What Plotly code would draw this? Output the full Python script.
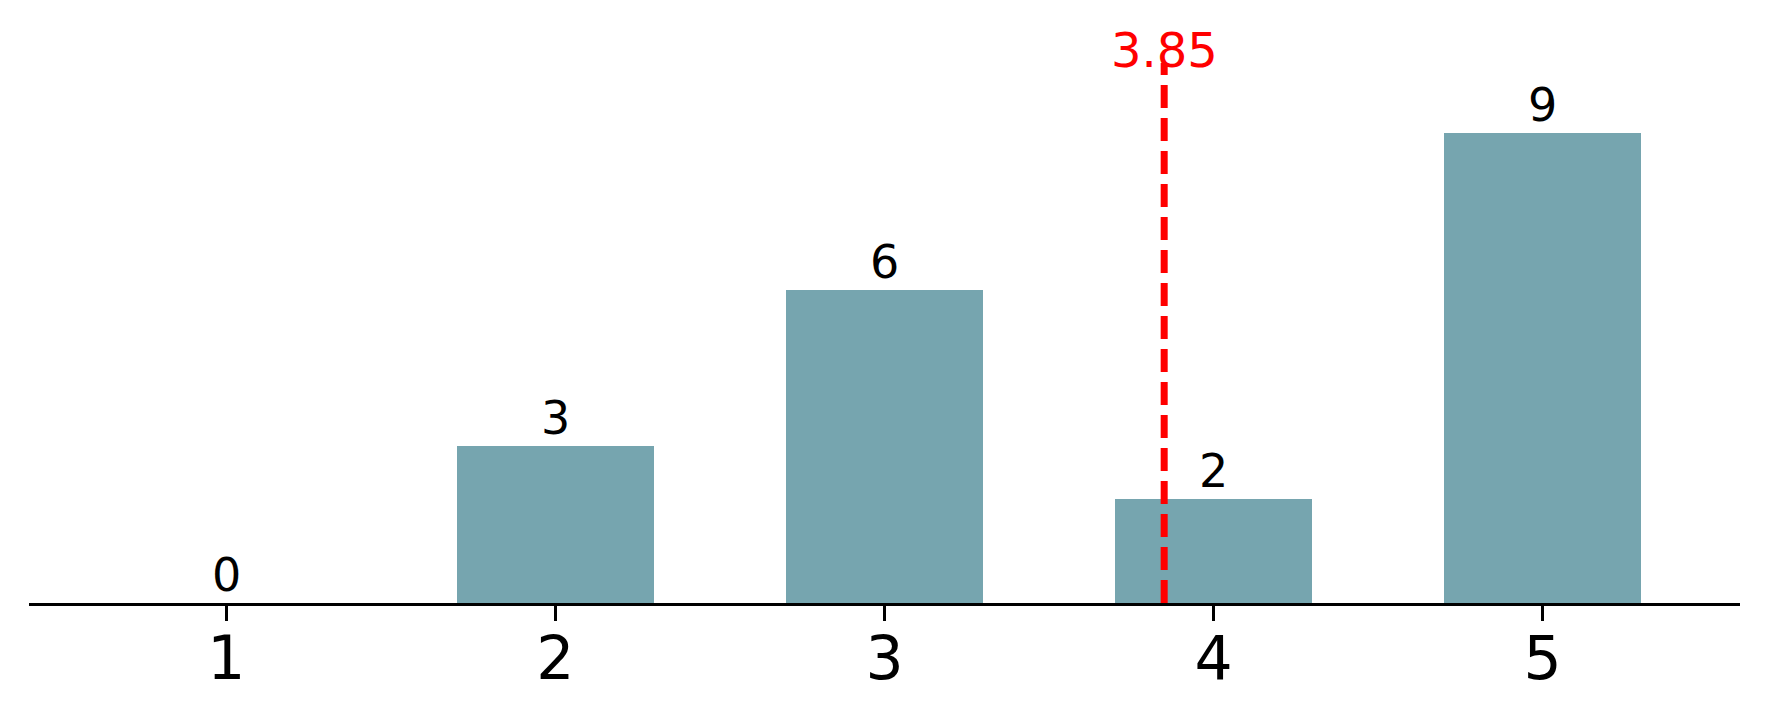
import plotly.graph_objects as go

categories = [1, 2, 3, 4, 5]
counts = [0, 3, 6, 2, 9]
mean_value = 3.85
tick_labels = ["1", "2", "3", "4", "5"]

BAR_COLOR = "#76a5af"
FONT = "DejaVu Sans"

fig = go.Figure()
fig.add_trace(go.Bar(x=categories, y=counts, width=0.6,
                     marker=dict(color=BAR_COLOR, line=dict(width=0)),
                     hoverinfo="skip"))

for c, v in zip(categories, counts):
    fig.add_annotation(x=c, y=v, text=str(v), showarrow=False,
                       xanchor="center", yanchor="bottom", yshift=-1,
                       font=dict(family=FONT, size=46, color="black"))

fig.add_shape(type="line", x0=mean_value, x1=mean_value, y0=0, y1=1,
              xref="x", yref="paper",
              line=dict(color="red", width=7, dash="23px,10px"))
fig.add_annotation(x=mean_value, y=1, xref="x", yref="paper",
                   text=f"{mean_value:.2f}", showarrow=False,
                   xanchor="center", yanchor="bottom", yshift=-17,
                   font=dict(family=FONT, size=48, color="red"))

fig.update_layout(
    width=1762, height=711,
    margin=dict(l=21, r=30, t=55, b=116),
    plot_bgcolor="white", paper_bgcolor="white",
    showlegend=False,
    bargap=0,
    xaxis=dict(range=[0.4, 5.6], tickmode="array", tickvals=categories,
               ticktext=tick_labels, showline=True, linecolor="black",
               linewidth=3, ticks="outside", ticklen=15, tickwidth=3,
               tickcolor="black", showgrid=False, zeroline=False,
               ticklabelstandoff=-14,
               tickfont=dict(family=FONT, size=60, color="black")),
    yaxis=dict(range=[0, 10.35], visible=False, showgrid=False,
               zeroline=False),
)

fig.write_html("out.html")
